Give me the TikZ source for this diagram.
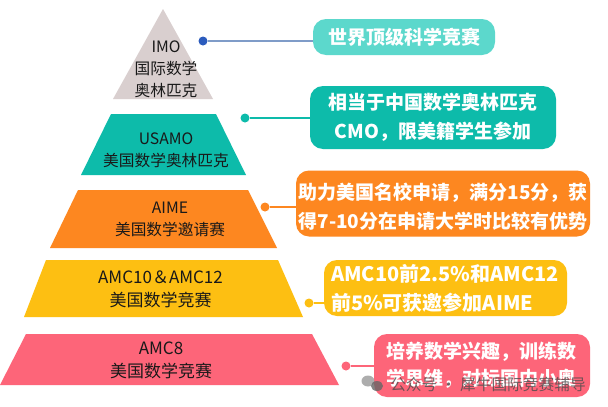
\documentclass[tikz,border=0pt]{standalone}
\usepackage{fontspec}
\setmainfont{Noto Sans CJK SC}
\definecolor{imoc}{HTML}{D9CFCF}
\definecolor{imonotec}{HTML}{5CD8CC}
\definecolor{imodotc}{HTML}{2B5BBD}
\definecolor{imolinec}{HTML}{7F9CC8}
\definecolor{usac}{HTML}{0DBBAA}
\definecolor{aimec}{HTML}{FD8720}
\definecolor{amcc}{HTML}{FDBF12}
\definecolor{pinkc}{HTML}{FD6579}
\tikzset{
  layerlabel/.style={inner sep=0pt,align=center,text=black!90,font=\fontsize{15.7}{22}\selectfont},
  biglabel/.style={layerlabel,font=\fontsize{17}{23}\selectfont},
  notebox/.style={rounded corners=13pt,inner ysep=0pt,inner xsep=0pt,text=white,align=center,font=\bfseries\fontsize{19}{29}\selectfont},
  dotmark/.style={circle,inner sep=0pt,minimum size=9pt},
  stem/.style={line width=1.2pt},
}
\begin{document}
\begin{tikzpicture}[x=1pt,y=-1pt]
\useasboundingbox (0,0) rectangle (608,407);
\fill[white] (0,0) rectangle (608,407);

\fill[imoc] (163,9) -- (213,99) -- (113,99) -- cycle;
\fill[usac] (111,114) -- (216,114) -- (246,175) -- (81,175) -- cycle;
\fill[aimec] (78,190) -- (248,190) -- (277,248) -- (50,248) -- cycle;
\fill[amcc] (46,260) -- (278,260) -- (303,317) -- (24,317) -- cycle;
\fill[pinkc] (26,334) -- (312,334) -- (339,385) -- (0,385) -- cycle;

\node[layerlabel] at (166,69) (imo) {IMO\\国际数学\\奥林匹克};
\node[layerlabel] at (166,150) (usamo) {USAMO\\美国数学奥林匹克};
\node[layerlabel] at (170,219) (aime) {AIME\\美国数学邀请赛};
\node[biglabel] at (160.5,289) (amcb) {AMC10＆AMC12\\美国数学竞赛};
\node[biglabel] at (161,360) (amca) {AMC8\\美国数学竞赛};

\node[dotmark,fill=imodotc] at (203,41) (imodot) {};
\node[dotmark,fill=usac] at (245,118) (usadot) {};
\node[dotmark,fill=aimec] at (265,207) (aimedot) {};
\node[dotmark,fill=amcc] at (309,303) (amcdot) {};
\node[dotmark,fill=pinkc] at (346,366) (pinkdot) {};

\node[notebox,fill=imonotec,minimum width=182pt,minimum height=36pt] at (404,37) (imonote) {世界顶级科学竞赛};
\node[notebox,fill=usac,minimum width=246pt,minimum height=63pt] at (433,117.5) (usanote) {相当于中国数学奥林匹克\\CMO，限美籍学生参加};
\node[notebox,fill=aimec,minimum width=294pt,minimum height=66pt] at (443,203.5) (aimenote) {\rule{0pt}{22pt}助力美国名校申请，满分15分，获\\得7-10分在申请大学时比较有优势};
\node[notebox,fill=amcc,minimum width=243pt,minimum height=56pt,text width=229pt,align=left,font=\bfseries\fontsize{20}{29}\selectfont] at (445.5,288) (amcnote) {AMC10前2.5\%和AMC12\\前5\%可获邀参加AIME};
\node[notebox,fill=pinkc,minimum width=216pt,minimum height=63pt,text width=192pt,align=left,font=\bfseries\fontsize{19}{27}\selectfont] at (482,365.5) (pinknote) {培养数学兴趣，训练数\\学思维，对标国内小奥};

\draw[stem,imolinec] (imodot) -- (imodot -| imonote.west);
\draw[stem,usac] (usadot) -- (usadot -| usanote.west);
\draw[stem,aimec] (aimedot) -- (aimedot -| aimenote.west);
\draw[stem,amcc] (amcdot) -- (amcdot -| amcnote.west);
\draw[stem,pinkc] (pinkdot) -- (pinkdot -| pinknote.west);

\fill[black!40,opacity=.8] (368,381) ellipse (6.5pt and 5.5pt);
\fill[black!60,opacity=.8] (377,386) ellipse (6pt and 5pt);
\node[inner sep=0pt,text=black!70,opacity=.8,font=\fontsize{15.7}{18}\selectfont] at (488,384) (mark) {公众号 · 犀牛国际竞赛辅导};
\end{tikzpicture}
\end{document}
